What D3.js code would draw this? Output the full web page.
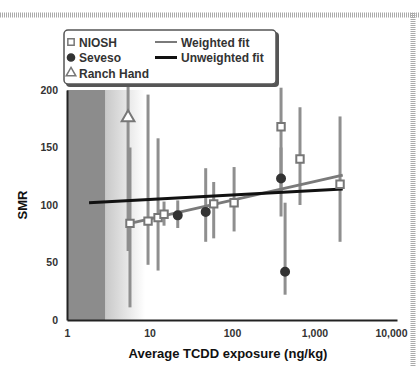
<!DOCTYPE html>
<html>
<head>
<meta charset="utf-8">
<script src="https://cdnjs.cloudflare.com/ajax/libs/d3/7.8.5/d3.min.js"></script>
<style>
  body { margin: 0; background: #fff; }
  svg text { font-family: "Liberation Sans", Arial, sans-serif; font-weight: bold; }
</style>
</head>
<body>
<div id="chart"></div>
<script>
// studies / points
var pointStudy    = ["Ranch Hand", "NIOSH", "NIOSH", "NIOSH", "NIOSH", "Seveso", "Seveso", "NIOSH", "NIOSH", "NIOSH", "Seveso", "Seveso", "NIOSH", "NIOSH"];
var pointExposure = [5.5, 5.8, 9.6, 12.7, 15, 22, 48, 60, 106, 393, 393, 440, 667, 2040];
var pointSMR      = [176, 84, 86, 89, 92, 91, 94, 101, 102, 168, 123, 42, 140, 118];
var pointLow      = [60, 11, 48, 43, 82, 80, 68, 71, 77, 110, 90, 22, 100, 68];
var pointHigh     = [204, 150, 196, 158, 103, 104, 132, 120, 133, 202, 150, 102, 185, 177];

var weightedFitX   = [5.8, 2200];
var weightedFitY   = [84, 126];
var unweightedFitX = [1.85, 2200];
var unweightedFitY = [102, 114];

var xTicks = [1, 10, 100, 1000, 10000];
var xTickLabels = ["1", "10", "100", "1,000", "10,000"];
var yTicks = [0, 50, 100, 150, 200];

var legendStudies = ["NIOSH", "Seveso", "Ranch Hand"];
var legendFits = ["Weighted fit", "Unweighted fit"];

var background = [1, 2.9];   // dark band (background exposure)

var W = 419, H = 366;

var svg = d3.select("#chart").append("svg")
    .attr("width", W)
    .attr("height", H);

var x = d3.scaleLog().domain([1, 10000]).range([67, 397]);
var y = d3.scaleLinear().domain([0, 200]).range([320, 90]);

// scan borders (dotted)
svg.append("line")
    .attr("x1", 0).attr("x2", W).attr("y1", 15).attr("y2", 15)
    .attr("stroke", "#aaa").attr("stroke-width", 5).attr("stroke-dasharray", "1,1");
svg.append("line")
    .attr("x1", 413).attr("x2", 413).attr("y1", 13).attr("y2", H)
    .attr("stroke", "#aaa").attr("stroke-width", 5).attr("stroke-dasharray", "1,1");

// shaded background band
var defs = svg.append("defs");
var grad = defs.append("linearGradient").attr("id", "fade")
    .attr("x1", "0%").attr("x2", "100%");
grad.append("stop").attr("offset", "0%").attr("stop-color", "#c8c8c8");
grad.append("stop").attr("offset", "100%").attr("stop-color", "#fff");

svg.append("rect")
    .attr("x", x(background[1]))
    .attr("y", y(200))
    .attr("width", 40)
    .attr("height", y(0) - y(200))
    .attr("fill", "url(#fade)");

svg.append("rect")
    .attr("x", x(background[0]))
    .attr("y", y(200))
    .attr("width", x(background[1]) - x(background[0]))
    .attr("height", y(0) - y(200))
    .attr("fill", "#8c8c8c");

// axes
var xAxis = d3.axisBottom(x)
    .tickValues(xTicks)
    .tickFormat(function(d, i) { return xTickLabels[i]; })
    .tickSize(0)
    .tickPadding(10);

var gx = svg.append("g")
    .attr("transform", "translate(0," + y(0) + ")")
    .call(xAxis);
gx.select(".domain").attr("stroke", "#222").attr("stroke-width", 2);
gx.selectAll("text").attr("font-size", 10.5).attr("fill", "#333");
gx.selectAll(".tick").filter(function(d) { return d == 10000; })
    .select("text").attr("dx", -6);

var yAxis = d3.axisLeft(y)
    .tickValues(yTicks)
    .tickSize(0)
    .tickPadding(9);

var gy = svg.append("g")
    .attr("transform", "translate(" + x(1) + ",0)")
    .call(yAxis);
gy.select(".domain").attr("stroke", "#222").attr("stroke-width", 2);
gy.selectAll("text").attr("font-size", 10.5).attr("fill", "#333");

// axis titles
svg.append("text")
    .attr("x", 228).attr("y", 358)
    .attr("text-anchor", "middle")
    .attr("font-size", 13)
    .attr("fill", "#111")
    .text("Average TCDD exposure (ng/kg)");

svg.append("text")
    .attr("transform", "translate(27," + y(100) + ") rotate(-90)")
    .attr("text-anchor", "middle")
    .attr("font-size", 13)
    .attr("fill", "#111")
    .text("SMR");

// error bars
var idx = d3.range(pointSMR.length);
svg.append("g").selectAll("line")
    .data(idx)
    .enter().append("line")
    .attr("x1", function(i) { return x(pointExposure[i]); })
    .attr("x2", function(i) { return x(pointExposure[i]); })
    .attr("y1", function(i) { return y(pointLow[i]); })
    .attr("y2", function(i) { return y(pointHigh[i]); })
    .attr("stroke", "#8f8f8f")
    .attr("stroke-width", 3);

// fit lines
var line = d3.line()
    .x(function(d) { return x(d[0]); })
    .y(function(d) { return y(d[1]); });

svg.append("path")
    .datum(d3.zip(weightedFitX, weightedFitY))
    .attr("d", line)
    .attr("fill", "none")
    .attr("stroke", "#7a7a7a")
    .attr("stroke-width", 3);

svg.append("path")
    .datum(d3.zip(unweightedFitX, unweightedFitY))
    .attr("d", line)
    .attr("fill", "none")
    .attr("stroke", "#111")
    .attr("stroke-width", 3);

// markers
var symbolFor = {
    "NIOSH": d3.symbol().type(d3.symbolSquare).size(55),
    "Seveso": d3.symbol().type(d3.symbolCircle).size(50),
    "Ranch Hand": d3.symbol().type(d3.symbolTriangle).size(70)
};
function fillFor(s) { return s == "Seveso" ? "#333" : "#fff"; }
function strokeFor(s) { return s == "Seveso" ? "#333" : "#777"; }

svg.append("g").selectAll("path")
    .data(idx)
    .enter().append("path")
    .attr("transform", function(i) { return "translate(" + x(pointExposure[i]) + "," + y(pointSMR[i]) + ")"; })
    .attr("d", function(i) { return symbolFor[pointStudy[i]](); })
    .attr("fill", function(i) { return fillFor(pointStudy[i]); })
    .attr("stroke", function(i) { return strokeFor(pointStudy[i]); })
    .attr("stroke-width", 2);

// legend
var lg = svg.append("g");
lg.append("rect")
    .attr("x", 66).attr("y", 32).attr("width", 213).attr("height", 55)
    .attr("rx", 4).attr("fill", "#555");
lg.append("rect")
    .attr("x", 64).attr("y", 30).attr("width", 212).attr("height", 54)
    .attr("rx", 4).attr("fill", "#fff").attr("stroke", "#555").attr("stroke-width", 1.5);

legendStudies.forEach(function(s, i) {
    var ly = 42 + i * 15.5;
    lg.append("path")
        .attr("transform", "translate(71," + ly + ")")
        .attr("d", d3.symbol().type(symbolFor[s].type()).size(40)())
        .attr("fill", fillFor(s))
        .attr("stroke", strokeFor(s))
        .attr("stroke-width", 1.5);
    lg.append("text")
        .attr("x", 79).attr("y", ly + 4.5)
        .attr("font-size", 12).attr("fill", "#333")
        .text(s);
});

legendFits.forEach(function(f, i) {
    var ly = 42 + i * 15.5;
    lg.append("line")
        .attr("x1", 155).attr("x2", 177).attr("y1", ly).attr("y2", ly)
        .attr("stroke", i == 0 ? "#7a7a7a" : "#111")
        .attr("stroke-width", i == 0 ? 2 : 3);
    lg.append("text")
        .attr("x", 181).attr("y", ly + 4.5)
        .attr("font-size", 12).attr("fill", "#333")
        .text(f);
});
</script>
</body>
</html>
